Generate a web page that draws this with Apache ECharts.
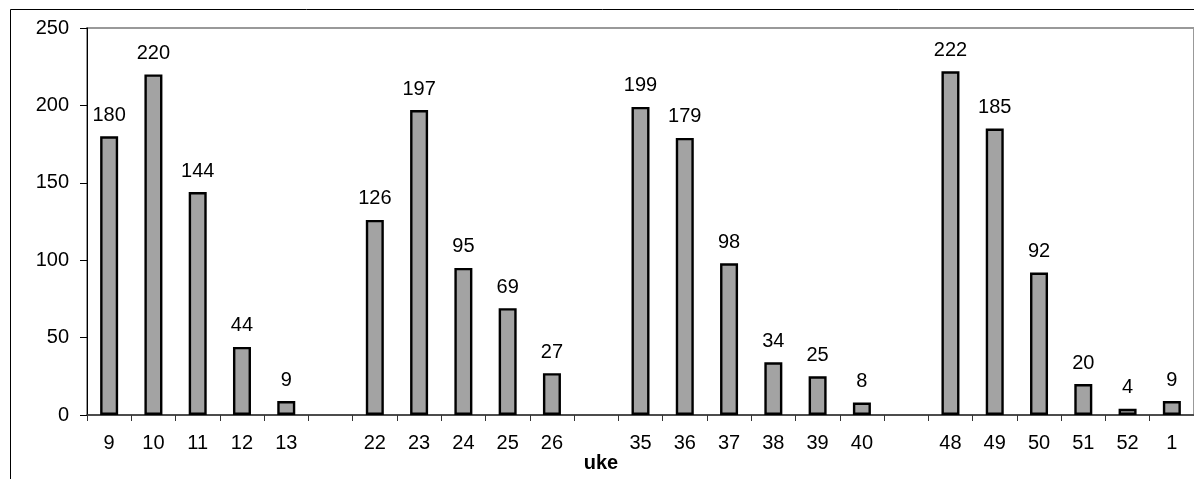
<!DOCTYPE html>
<html>
<head>
<meta charset="utf-8">
<script src="https://cdn.jsdelivr.net/npm/echarts@6/dist/echarts.min.js"></script>
<style>
html,body{margin:0;padding:0;background:#fff;}
#chart{width:1194px;height:479px;}
</style>
</head>
<body>
<div id="chart"></div>
<script>
var categories = ['9','10','11','12','13','','22','23','24','25','26','','35','36','37','38','39','40','','48','49','50','51','52','1'];
var values = [180,220,144,44,9,'-',126,197,95,69,27,'-',199,179,98,34,25,8,'-',222,185,92,20,4,9];
var yTicks = {min:0, max:250, interval:50};
var axisTitle = 'uke';

var chart = echarts.init(document.getElementById('chart'), null, {renderer:'canvas'});
var font = 'Liberation Sans, Arial, sans-serif';
chart.setOption({
  animation:false,
  backgroundColor:'#fff',
  grid:{left:87, top:28, width:1116, height:387, show:true, borderColor:'#999', borderWidth:2, backgroundColor:'transparent'},
  xAxis:{
    type:'category', data:categories, boundaryGap:true,
    axisLine:{lineStyle:{color:'#333', width:1.5}},
    axisTick:{show:true, length:6, alignWithLabel:false, lineStyle:{color:'#333'}},
    axisLabel:{interval:0, color:'#000', fontFamily:font, fontSize:20, margin:18},
    splitLine:{show:false}
  },
  yAxis:{
    type:'value', min:yTicks.min, max:yTicks.max, interval:yTicks.interval,
    axisLine:{show:true, lineStyle:{color:'#000', width:1}},
    axisTick:{show:true, length:7, lineStyle:{color:'#000'}},
    axisLabel:{color:'#000', fontFamily:font, fontSize:20, margin:18},
    splitLine:{show:false}
  },
  series:[{
    type:'bar', data:values, barWidth:18,
    itemStyle:{color:'#a3a3a3', borderColor:'#000', borderWidth:2.4},
    label:{show:true, position:'top', distance:11, color:'#000', fontFamily:font, fontSize:20}
  }],
  graphic:[
    {type:'rect', shape:{x:10.5, y:9.5, width:1200, height:480}, style:{fill:'none', stroke:'#000', lineWidth:1}, z:-1},
    {type:'text', x:601, y:463, style:{text:axisTitle, font:'bold 20px Liberation Sans, Arial, sans-serif', fill:'#000', textAlign:'center', textVerticalAlign:'middle'}}
  ]
});
</script>
</body>
</html>
